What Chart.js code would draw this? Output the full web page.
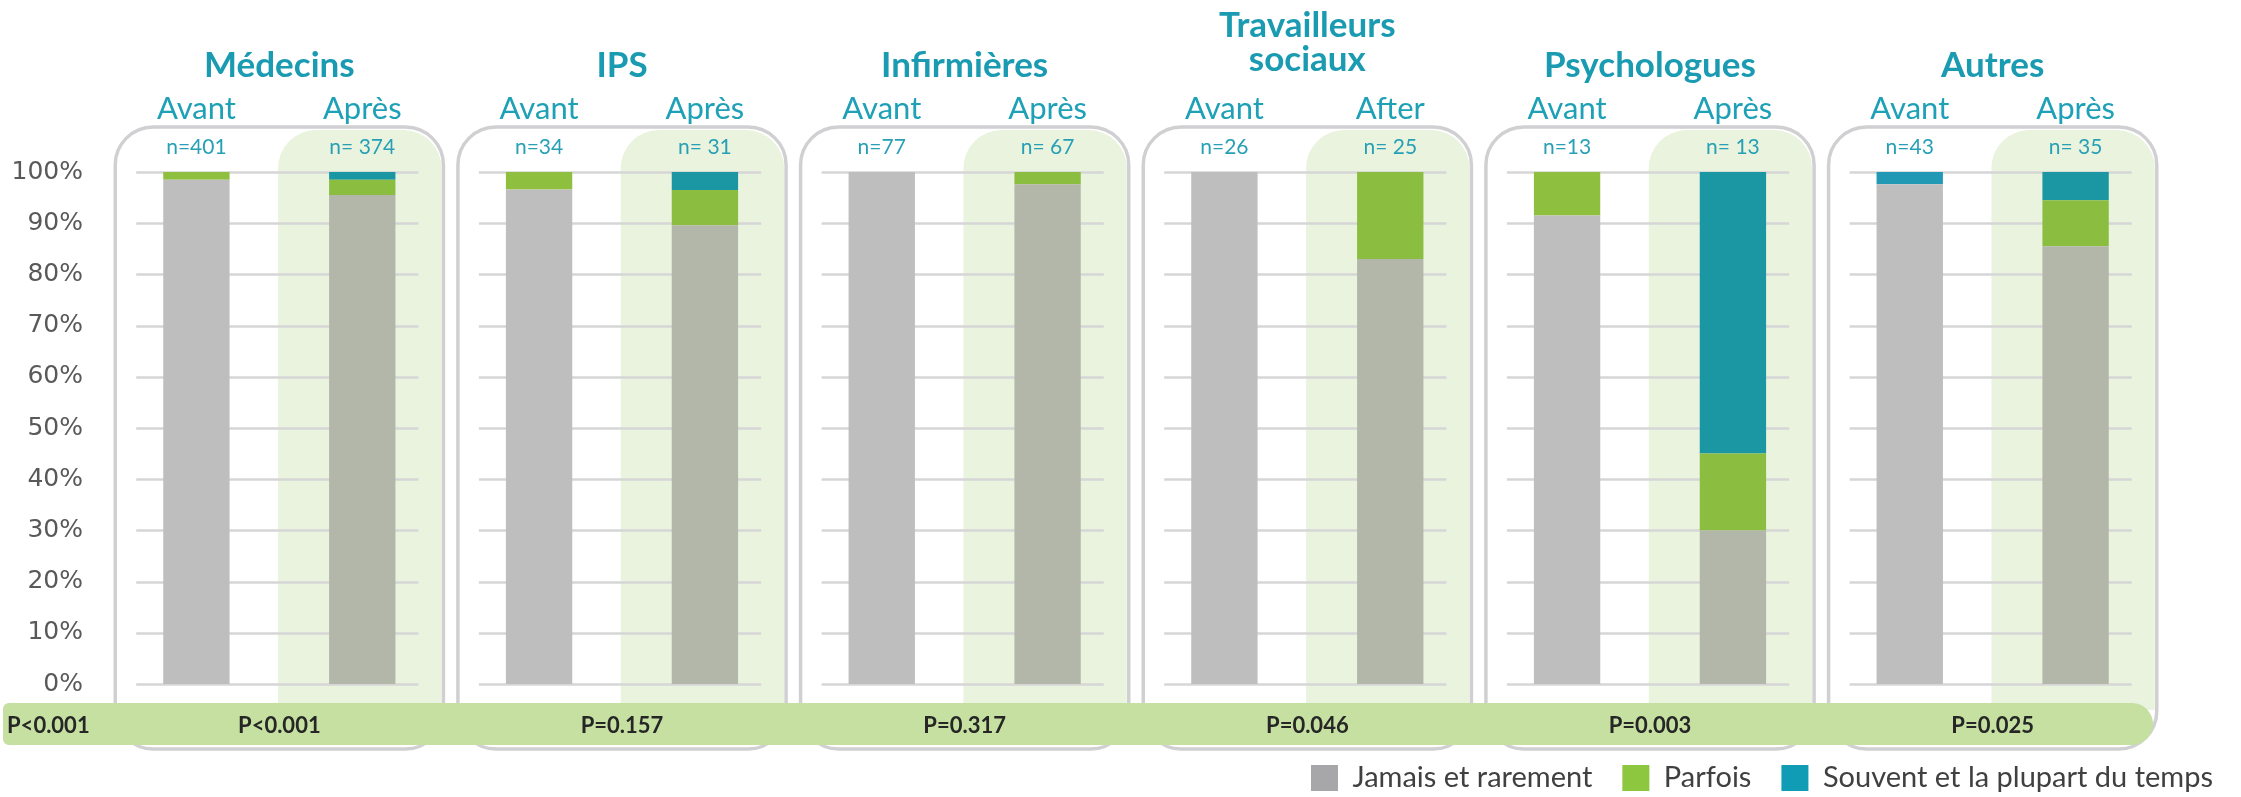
<!DOCTYPE html>
<html>
<head>
<meta charset="utf-8">
<script src="https://cdn.jsdelivr.net/npm/chart.js@4.4.1/dist/chart.umd.min.js"></script>
<style>
  html, body { margin: 0; padding: 0; background: #fff; }
  #wrap { width: 2241px; height: 797px; }
</style>
</head>
<body>
<div id="wrap"><canvas id="chart" width="2241" height="797"></canvas></div>
<script>
// groups (professions) and the before / after columns
const groups = ["Médecins", "IPS", "Infirmières", ["Travailleurs", "sociaux"], "Psychologues", "Autres"];
const beforeLabels = ["Avant", "Avant", "Avant", "Avant", "Avant", "Avant"];
const afterLabels = ["Après", "Après", "Après", "After", "Après", "Après"];
const nBefore = ["n=401", "n=34", "n=77", "n=26", "n=13", "n=43"];
const nAfter = ["n= 374", "n= 31", "n= 67", "n= 25", "n= 13", "n= 35"];
const pOverall = "P<0.001";
const pValues = ["P<0.001", "P=0.157", "P=0.317", "P=0.046", "P=0.003", "P=0.025"];

// percentages
const jamaisAvant = [98.5, 96.6, 100, 100, 91.5, 97.6];
const parfoisAvant = [1.5, 3.4, 0, 0, 8.5, 0];
const souventAvant = [0, 0, 0, 0, 0, 2.4];
const jamaisApres = [95.5, 89.6, 97.6, 83, 30, 85.5];
const parfoisApres = [3, 6.9, 2.4, 17, 15, 9];
const souventApres = [1.5, 3.5, 0, 0, 55, 5.5];

const yTicks = [0, 10, 20, 30, 40, 50, 60, 70, 80, 90, 100];
const seriesNames = ["Jamais et rarement", "Parfois", "Souvent et la plupart du temps"];
const legendColors = ["#a7a7aa", "#8dc63f", "#0f9cb4"];

const TEAL = "#1a9bb1";
const FONT = "Lato, 'Open Sans', sans-serif";

function roundRect(ctx, x, y, w, h, r) {
  ctx.beginPath();
  ctx.roundRect(x, y, w, h, r);
}

// decorations: rounded frames, "after" shading, grid segments, band and labels
const decorations = {
  id: "decorations",
  beforeDatasetsDraw(chart) {
    const ctx = chart.ctx;
    const y = chart.scales.y;
    const avant = chart.getDatasetMeta(0).data;
    const apres = chart.getDatasetMeta(3).data;
    ctx.save();
    groups.forEach((g, i) => {
      const bw = avant[i].width;
      const left = avant[i].x - bw / 2 - 48;
      const right = apres[i].x + bw / 2 + 48;
      // shading behind the "after" bar
      ctx.fillStyle = "#e9f3de";
      const sx = apres[i].x - bw / 2 - 51;
      roundRect(ctx, sx, 130, right - sx - 2, 580, [38, 38, 0, 0]);
      ctx.fill();
      // grid segments
      ctx.strokeStyle = "#d6d6d6";
      ctx.lineWidth = 2.5;
      yTicks.forEach(t => {
        const py = Math.round(y.getPixelForValue(t)) + 0.5;
        ctx.beginPath();
        ctx.moveTo(avant[i].x - bw / 2 - 27, py);
        ctx.lineTo(apres[i].x + bw / 2 + 23, py);
        ctx.stroke();
      });
      // frame
      ctx.strokeStyle = "#d0d0d3";
      ctx.lineWidth = 3.5;
      roundRect(ctx, left, 127, right - left, 622, 38);
      ctx.stroke();
    });
    ctx.restore();
  },
  afterDatasetsDraw(chart) {
    const ctx = chart.ctx;
    const x = chart.scales.x;
    const avant = chart.getDatasetMeta(0).data;
    const apres = chart.getDatasetMeta(3).data;
    ctx.save();
    // bottom band
    ctx.fillStyle = "#c5e0a0";
    roundRect(ctx, 3, 703, 2150, 42, [6, 21, 21, 6]);
    ctx.fill();
    ctx.fillStyle = "#262626";
    ctx.font = "bold 22px " + FONT;
    ctx.textBaseline = "alphabetic";
    ctx.textAlign = "left";
    ctx.fillText(pOverall, 7, 733);
    ctx.textAlign = "center";
    pValues.forEach((p, i) => ctx.fillText(p, x.getPixelForValue(i), 733));

    groups.forEach((g, i) => {
      const cx = x.getPixelForValue(i);
      ctx.fillStyle = TEAL;
      ctx.font = "bold 35px " + FONT;
      const lines = Array.isArray(g) ? g : [g];
      const base = lines.length > 1 ? 71 : 77;
      lines.forEach((ln, k) => ctx.fillText(ln, cx, base - (lines.length - 1 - k) * 34));
      ctx.fillStyle = "#1ea0b6";
      ctx.font = "31px " + FONT;
      ctx.fillText(beforeLabels[i], avant[i].x, 119);
      ctx.fillText(afterLabels[i], apres[i].x, 119);
      ctx.fillStyle = "#27a0b6";
      ctx.font = "21px " + FONT;
      ctx.fillText(nBefore[i], avant[i].x, 154);
      ctx.fillText(nAfter[i], apres[i].x, 154);
    });
    ctx.restore();
  }
};

function ds(label, data, color, stack) {
  return { label, data, backgroundColor: color, stack, borderWidth: 0,
           categoryPercentage: 0.968, barPercentage: 0.4 };
}

const chart = new Chart(document.getElementById("chart"), {
  type: "bar",
  data: {
    labels: groups.map(g => Array.isArray(g) ? g.join(" ") : g),
    datasets: [
      ds(seriesNames[0], jamaisAvant, "#bfbebf", "avant"),
      ds(seriesNames[1], parfoisAvant, "#8fbf3f", "avant"),
      ds(seriesNames[2], souventAvant, "#2299b4", "avant"),
      ds(seriesNames[0], jamaisApres, "#b3b7aa", "apres"),
      ds(seriesNames[1], parfoisApres, "#8bbd40", "apres"),
      ds(seriesNames[2], souventApres, "#1b96a3", "apres"),
    ],
  },
  options: {
    responsive: false,
    animation: false,
    layout: { padding: { top: 172, left: 0, right: -2, bottom: -5.5 } },
    scales: {
      x: {
        stacked: true,
        grid: { display: false },
        border: { display: false },
        ticks: { display: false },
        afterFit: s => { s.height = 49.5; },
      },
      y: {
        stacked: true,
        min: 0,
        max: 100,
        grid: { display: false, drawTicks: false },
        border: { display: false },
        afterBuildTicks: s => { s.ticks = yTicks.map(v => ({ value: v })); },
        ticks: {
          padding: 25,
          color: "#595959",
          font: { family: "'DejaVu Sans'", size: 25 },
          callback: v => v + "%",
        },
        afterFit: s => { s.width = 108; },
      },
      yRight: {
        position: "right",
        grid: { display: false, drawTicks: false },
        border: { display: false },
        ticks: { display: false },
        afterFit: s => { s.width = 79; },
      },
    },
    plugins: {
      tooltip: { enabled: false },
      legend: {
        position: "bottom",
        align: "end",
        labels: {
          boxWidth: 27,
          boxHeight: 26,
          padding: 30,
          color: "#404040",
          font: { family: FONT, size: 29 },
          filter: item => item.datasetIndex < 3,
          generateLabels: c => Chart.defaults.plugins.legend.labels.generateLabels(c).map(it => {
            if (it.datasetIndex < 3) {
              it.fillStyle = legendColors[it.datasetIndex];
              it.strokeStyle = legendColors[it.datasetIndex];
              it.lineWidth = 0;
            }
            return it;
          }),
        },
      },
    },
  },
  plugins: [decorations],
});
</script>
</body>
</html>
